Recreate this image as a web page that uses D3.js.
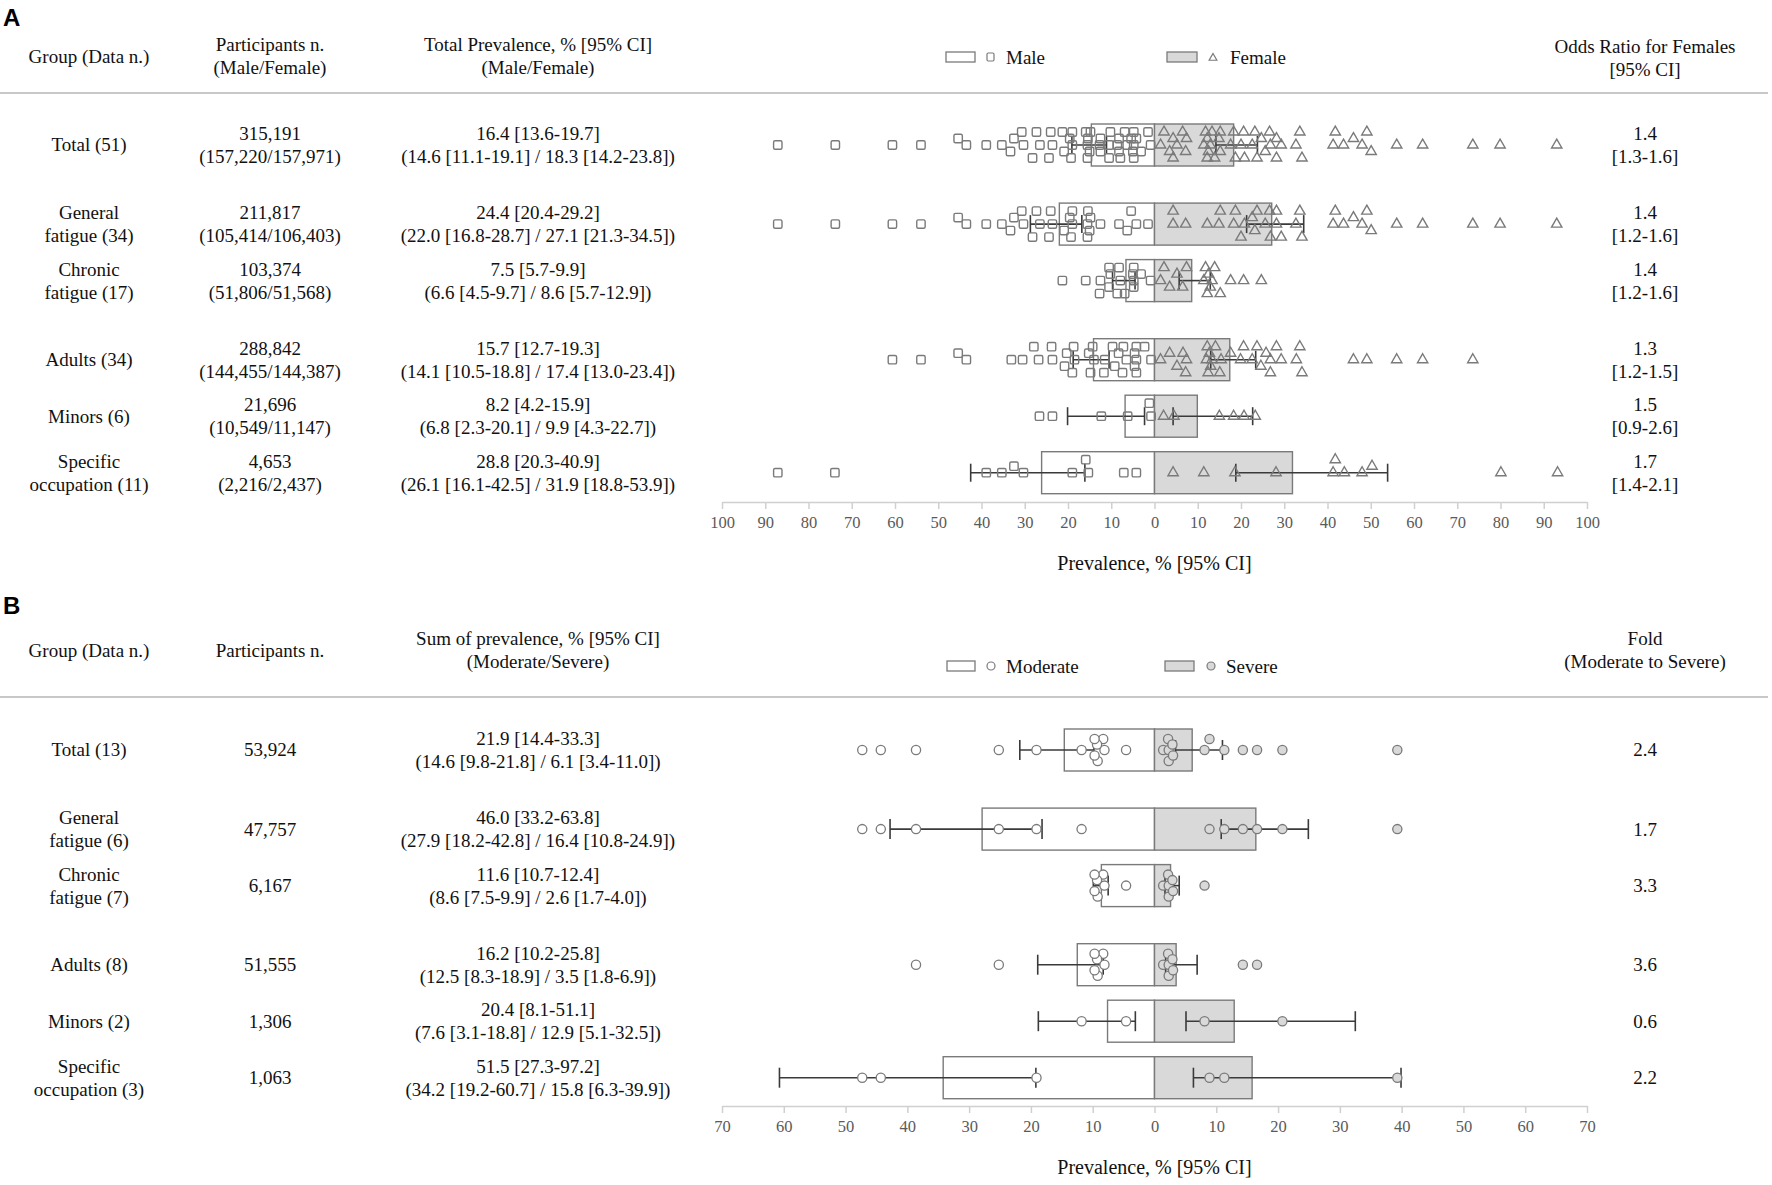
<!DOCTYPE html>
<html><head><meta charset="utf-8">
<script src="https://cdn.jsdelivr.net/npm/d3@7"></script>
<style>body{margin:0;background:#fff}svg{display:block}</style>
</head><body>
<svg id="c" width="1772" height="1185"></svg>
<script>
// ---------------- PANEL A DATA ----------------
const groupLabelsA = [["Total (51)"],["General","fatigue (34)"],["Chronic","fatigue (17)"],["Adults (34)"],["Minors (6)"],["Specific","occupation (11)"]];
const participantsA = [["315,191","(157,220/157,971)"],["211,817","(105,414/106,403)"],["103,374","(51,806/51,568)"],["288,842","(144,455/144,387)"],["21,696","(10,549/11,147)"],["4,653","(2,216/2,437)"]];
const prevalenceA = [["16.4 [13.6-19.7]","(14.6 [11.1-19.1] / 18.3 [14.2-23.8])"],["24.4 [20.4-29.2]","(22.0 [16.8-28.7] / 27.1 [21.3-34.5])"],["7.5 [5.7-9.9]","(6.6 [4.5-9.7] / 8.6 [5.7-12.9])"],["15.7 [12.7-19.3]","(14.1 [10.5-18.8] / 17.4 [13.0-23.4])"],["8.2 [4.2-15.9]","(6.8 [2.3-20.1] / 9.9 [4.3-22.7])"],["28.8 [20.3-40.9]","(26.1 [16.1-42.5] / 31.9 [18.8-53.9])"]];
const oddsA = [["1.4","[1.3-1.6]"],["1.4","[1.2-1.6]"],["1.4","[1.2-1.6]"],["1.3","[1.2-1.5]"],["1.5","[0.9-2.6]"],["1.7","[1.4-2.1]"]];
const maleEst = [14.6,22.0,6.6,14.1,6.8,26.1];
const maleLo  = [11.1,16.8,4.5,10.5,2.3,16.1];
const maleHi  = [19.1,28.7,9.7,18.8,20.1,42.5];
const femaleEst = [18.3,27.1,8.6,17.4,9.9,31.9];
const femaleLo  = [14.2,21.3,5.7,13.0,4.3,18.8];
const femaleHi  = [23.8,34.5,12.9,23.4,22.7,53.9];

const generalMale = [87.1,73.8,60.6,54.0,43.5,45.4,38.9,35.3,33.3,32.5,30.7,30.3,28.2,26.5,27.3,24.0,23.6,24.4,20.9,19.0,19.6,19.3,19.0,14.8,15.5,15.4,15.5,15.0,12.5,8.2,5.4,4.2,6.3,1.5];
const chronicMale = [21.3,15.9,12.5,12.7,10.2,10.5,10.5,8.2,8.6,7.9,6.9,4.8,4.8,4.8,5.0,3.1,0.9];
const generalFemale = [7.2,4.3,4.3,12.2,14.9,15.2,18.7,18.3,20.0,20.8,22.6,23.2,23.7,25.6,26.8,26.6,28.2,28.2,29.3,32.7,33.6,34.1,41.3,41.8,43.7,46.0,48.0,49.1,50.1,56.0,62.0,73.6,79.9,93.0];
const chronicFemale = [1.4,3.5,2.2,7.4,5.2,6.5,11.4,12.2,13.3,11.8,12.9,13.9,15.2,17.6,20.6,24.7,12.5];
const adultsMale = [60.6,54.0,43.5,45.4,33.1,30.5,27.9,26.8,23.8,23.6,20.8,20.3,18.7,19.0,18.5,14.3,15.2,14.8,14.0,11.5,11.7,9.7,9.2,7.2,8.3,7.4,6.5,4.2,4.6,4.2,4.2,2.3,0.8,4.6];
const adultsFemale = [1.4,3.5,5.2,6.6,7.4,7.2,12.2,13.3,12.0,12.4,12.7,13.0,14.1,15.4,15.1,17.6,20.6,19.9,22.6,23.7,24.6,25.8,26.8,26.8,28.2,29.3,32.8,34.1,33.6,46.0,49.1,56.0,62.0,73.6];
const minorsMale = [23.6,26.6,12.3,6.2,1.2,0.8];
const minorsFemale = [4.5,2.1,15.0,20.7,18.3,23.3];
const specificMale = [87.1,73.9,38.9,35.3,32.5,30.3,19.0,15.3,15.9,7.1,4.2];
const specificFemale = [4.3,11.4,18.6,28.1,41.8,41.3,48.0,50.3,43.9,80.1,93.2];
const pointsMaleA = [generalMale.concat(chronicMale), generalMale, chronicMale, adultsMale, minorsMale, specificMale];
const pointsFemaleA = [generalFemale.concat(chronicFemale), generalFemale, chronicFemale, adultsFemale, minorsFemale, specificFemale];
const ticksA = d3.range(-100, 101, 10);

// ---------------- PANEL B DATA ----------------
const groupLabelsB = [["Total (13)"],["General","fatigue (6)"],["Chronic","fatigue (7)"],["Adults (8)"],["Minors (2)"],["Specific","occupation (3)"]];
const participantsB = [["53,924"],["47,757"],["6,167"],["51,555"],["1,306"],["1,063"]];
const prevalenceB = [["21.9 [14.4-33.3]","(14.6 [9.8-21.8] / 6.1 [3.4-11.0])"],["46.0 [33.2-63.8]","(27.9 [18.2-42.8] / 16.4 [10.8-24.9])"],["11.6 [10.7-12.4]","(8.6 [7.5-9.9] / 2.6 [1.7-4.0])"],["16.2 [10.2-25.8]","(12.5 [8.3-18.9] / 3.5 [1.8-6.9])"],["20.4 [8.1-51.1]","(7.6 [3.1-18.8] / 12.9 [5.1-32.5])"],["51.5 [27.3-97.2]","(34.2 [19.2-60.7] / 15.8 [6.3-39.9])"]];
const foldB = [["2.4"],["1.7"],["3.3"],["3.6"],["0.6"],["2.2"]];
const moderateEst = [14.6,27.9,8.6,12.5,7.6,34.2];
const moderateLo  = [9.8,18.2,7.5,8.3,3.1,19.2];
const moderateHi  = [21.8,42.8,9.9,18.9,18.8,60.7];
const severeEst = [6.1,16.4,2.6,3.5,12.9,15.8];
const severeLo  = [3.4,10.8,1.7,1.8,5.1,6.3];
const severeHi  = [11.0,24.9,4.0,6.9,32.5,39.9];
// per-study values
const studyModerate = [47.3,44.3,38.6,25.2,19.1,11.8,4.6,9.2,8.1,9.7,9.7,8.3,9.3];
const studySevere   = [8.9,11.3,14.3,16.6,39.3,20.7,8.1,2.3,3.0,1.4,2.2,2.9,2.3];
const studyFatigue  = ["General","General","General","General","General","General","Chronic","Chronic","Chronic","Chronic","Chronic","Chronic","Chronic"];
const studyGroup    = ["Specific","Specific","Adults","Adults","Specific","Minors","Minors","Adults","Adults","Adults","Adults","Adults","Adults"];
const rowFiltersB = [i=>true, i=>studyFatigue[i]==="General", i=>studyFatigue[i]==="Chronic", i=>studyGroup[i]==="Adults", i=>studyGroup[i]==="Minors", i=>studyGroup[i]==="Specific"];
const ticksB = d3.range(-70, 71, 10);

// ---------------- LAYOUT ----------------
const svg = d3.select("#c");
const SERIF = "'Liberation Serif','Times New Roman',serif";
const rowSlots = [0,1.4,2.4,3.8,4.8,5.8];
const colGroup = 89, colPart = 270, colPrev = 538, colRight = 1645;
const LH = 23;
const GRAY = "#7a7a7a", FILL = "#d9d9d9", ERR = "#3a3a3a";

function lines(g, x, yc, arr, size, anchor) {
  const n = arr.length;
  arr.forEach((t, i) => {
    g.append("text").attr("x", x).attr("y", yc + (i - (n - 1) / 2) * LH + size * 0.34)
      .attr("text-anchor", anchor || "middle").attr("font-family", SERIF)
      .attr("font-size", size).attr("fill", "#111").text(t);
  });
}

function swarm(vals, scale, sign, yc, minD, step, maxK) {
  const pts = vals.map(v => ({ v, x: scale(sign * v) })).sort((a, b) => a.v - b.v);
  const placed = [];
  pts.forEach(p => {
    let best = 0, bestScore = -1;
    for (let k = 0; k <= 2 * maxK; k++) {
      const off = k === 0 ? 0 : (k % 2 ? -1 : 1) * Math.ceil(k / 2) * step;
      let md = Infinity;
      placed.forEach(q => { const d = Math.hypot(q.x - p.x, q.y - (yc + off)); if (d < md) md = d; });
      if (md >= minD) { best = off; bestScore = Infinity; break; }
      if (md > bestScore) { bestScore = md; best = off; }
    }
    p.y = yc + best;
    placed.push(p);
  });
  return placed;
}

function errBar(g, x, y, lo, hi, sign, cap) {
  const x1 = x(sign * lo), x2 = x(sign * hi);
  g.append("line").attr("x1", x1).attr("x2", x2).attr("y1", y).attr("y2", y).attr("stroke", ERR).attr("stroke-width", 1.6);
  [x1, x2].forEach(xx => g.append("line").attr("x1", xx).attr("x2", xx).attr("y1", y - cap).attr("y2", y + cap).attr("stroke", ERR).attr("stroke-width", 1.6));
}

function drawAxis(x, ticks, yAxis, titleY) {
  const ax = svg.append("g").attr("transform", `translate(0,${yAxis})`)
    .call(d3.axisBottom(x).tickValues(ticks).tickFormat(d => Math.abs(d)).tickSize(7).tickSizeOuter(0).tickPadding(7));
  ax.attr("font-family", SERIF).attr("font-size", 16.5);
  ax.select(".domain").attr("stroke", "#d0d0d0").attr("stroke-width", 1.5);
  ax.selectAll(".tick line").attr("stroke", "#d0d0d0").attr("stroke-width", 1.5);
  ax.selectAll(".tick text").attr("fill", "#5a5a5a");
  svg.append("text").attr("x", x(0)).attr("y", titleY).attr("text-anchor", "middle")
    .attr("font-family", SERIF).attr("font-size", 20).attr("fill", "#111").text("Prevalence, % [95% CI]");
}

function drawRule(y) {
  svg.append("line").attr("x1", 0).attr("x2", 1768).attr("y1", y).attr("y2", y).attr("stroke", "#c8c8c8").attr("stroke-width", 2);
}

// ---------------- PANEL A ----------------
(function () {
  const x = d3.scaleLinear().domain([-100, 100]).range([722, 1587]);
  const y = d3.scaleLinear().domain([0, 1]).range([145, 201.5]);
  const g = svg.append("g");
  svg.append("text").attr("x", 3).attr("y", 26).attr("font-family", "'Liberation Sans',Arial,sans-serif").attr("font-weight", "bold").attr("font-size", 24).text("A");
  lines(g, colGroup, 57, ["Group (Data n.)"], 19);
  lines(g, colPart, 56, ["Participants n.", "(Male/Female)"], 19);
  lines(g, colPrev, 56, ["Total Prevalence, % [95% CI]", "(Male/Female)"], 19);
  lines(g, colRight, 58, ["Odds Ratio for Females", "[95% CI]"], 19);
  // legend
  g.append("rect").attr("x", 946).attr("y", 52).attr("width", 29).attr("height", 10).attr("fill", "#fff").attr("stroke", GRAY).attr("stroke-width", 1.3);
  g.append("rect").attr("x", 987).attr("y", 53).attr("width", 7).attr("height", 8).attr("rx", 1.2).attr("fill", "none").attr("stroke", GRAY).attr("stroke-width", 1.2);
  g.append("text").attr("x", 1006).attr("y", 64).attr("font-family", SERIF).attr("font-size", 19).attr("fill", "#111").text("Male");
  g.append("rect").attr("x", 1167).attr("y", 52).attr("width", 30).attr("height", 10).attr("fill", FILL).attr("stroke", GRAY).attr("stroke-width", 1.3);
  g.append("path").attr("transform", "translate(1213,58)").attr("d", d3.symbol(d3.symbolTriangle, 26)()).attr("fill", "none").attr("stroke", GRAY).attr("stroke-width", 1.2);
  g.append("text").attr("x", 1230).attr("y", 64).attr("font-family", SERIF).attr("font-size", 19).attr("fill", "#111").text("Female");
  drawRule(93);

  rowSlots.forEach((s, i) => {
    const yc = y(s);
    lines(g, colGroup, yc, groupLabelsA[i], 19);
    lines(g, colPart, yc, participantsA[i], 19);
    lines(g, colPrev, yc, prevalenceA[i], 19);
    lines(g, colRight, yc, oddsA[i], 19);
    g.append("rect").attr("x", x(-maleEst[i])).attr("y", yc - 21).attr("width", x(0) - x(-maleEst[i])).attr("height", 42)
      .attr("fill", "#fff").attr("stroke", GRAY).attr("stroke-width", 1.4);
    g.append("rect").attr("x", x(0)).attr("y", yc - 21).attr("width", x(femaleEst[i]) - x(0)).attr("height", 42)
      .attr("fill", FILL).attr("stroke", GRAY).attr("stroke-width", 1.4);
    errBar(g, x, yc, maleLo[i], maleHi[i], -1, 9);
    errBar(g, x, yc, femaleLo[i], femaleHi[i], 1, 9);
    swarm(pointsMaleA[i], x, -1, yc, 10, 6.5, 2).forEach(p => {
      g.append("rect").attr("x", p.x - 4.2).attr("y", p.y - 4.2).attr("width", 8.4).attr("height", 8.4).attr("rx", 1.5)
        .attr("fill", "none").attr("stroke", GRAY).attr("stroke-width", 1.4);
    });
    swarm(pointsFemaleA[i], x, 1, yc, 10, 6.5, 2).forEach(p => {
      g.append("path").attr("transform", `translate(${p.x},${p.y})`).attr("d", d3.symbol(d3.symbolTriangle, 46)())
        .attr("fill", "none").attr("stroke", GRAY).attr("stroke-width", 1.4);
    });
  });
  drawAxis(x, ticksA, 502, 570);
})();

// ---------------- PANEL B ----------------
(function () {
  const x = d3.scaleLinear().domain([-70, 70]).range([722, 1587]);
  const y = d3.scaleLinear().domain([0, 1]).range([750, 806.5]);
  const g = svg.append("g");
  svg.append("text").attr("x", 3).attr("y", 614).attr("font-family", "'Liberation Sans',Arial,sans-serif").attr("font-weight", "bold").attr("font-size", 24).text("B");
  lines(g, colGroup, 651, ["Group (Data n.)"], 19);
  lines(g, colPart, 651, ["Participants n."], 19);
  lines(g, colPrev, 650, ["Sum of prevalence, % [95% CI]", "(Moderate/Severe)"], 19);
  lines(g, colRight, 650, ["Fold", "(Moderate to Severe)"], 19);
  g.append("rect").attr("x", 947).attr("y", 661).attr("width", 28).attr("height", 10).attr("fill", "#fff").attr("stroke", GRAY).attr("stroke-width", 1.3);
  g.append("circle").attr("cx", 991).attr("cy", 666).attr("r", 4).attr("fill", "#fff").attr("stroke", GRAY).attr("stroke-width", 1.2);
  g.append("text").attr("x", 1006).attr("y", 673).attr("font-family", SERIF).attr("font-size", 19).attr("fill", "#111").text("Moderate");
  g.append("rect").attr("x", 1165).attr("y", 661).attr("width", 29).attr("height", 10).attr("fill", FILL).attr("stroke", GRAY).attr("stroke-width", 1.3);
  g.append("circle").attr("cx", 1211).attr("cy", 666).attr("r", 4).attr("fill", FILL).attr("stroke", GRAY).attr("stroke-width", 1.2);
  g.append("text").attr("x", 1226).attr("y", 673).attr("font-family", SERIF).attr("font-size", 19).attr("fill", "#111").text("Severe");
  drawRule(697);

  rowSlots.forEach((s, i) => {
    const yc = y(s);
    lines(g, colGroup, yc, groupLabelsB[i], 19);
    lines(g, colPart, yc, participantsB[i], 19);
    lines(g, colPrev, yc, prevalenceB[i], 19);
    lines(g, colRight, yc, foldB[i], 19);
    g.append("rect").attr("x", x(-moderateEst[i])).attr("y", yc - 21).attr("width", x(0) - x(-moderateEst[i])).attr("height", 42)
      .attr("fill", "#fff").attr("stroke", GRAY).attr("stroke-width", 1.4);
    g.append("rect").attr("x", x(0)).attr("y", yc - 21).attr("width", x(severeEst[i]) - x(0)).attr("height", 42)
      .attr("fill", FILL).attr("stroke", GRAY).attr("stroke-width", 1.4);
    errBar(g, x, yc, moderateLo[i], moderateHi[i], -1, 10);
    errBar(g, x, yc, severeLo[i], severeHi[i], 1, 10);
    const idx = d3.range(studyModerate.length).filter(rowFiltersB[i]);
    swarm(idx.map(k => studyModerate[k]), x, -1, yc, 9.2, 5.5, 2).forEach(p => {
      g.append("circle").attr("cx", p.x).attr("cy", p.y).attr("r", 4.6).attr("fill", "#fff").attr("stroke", GRAY).attr("stroke-width", 1.3);
    });
    swarm(idx.map(k => studySevere[k]), x, 1, yc, 9.2, 5.5, 2).forEach(p => {
      g.append("circle").attr("cx", p.x).attr("cy", p.y).attr("r", 4.6).attr("fill", FILL).attr("stroke", GRAY).attr("stroke-width", 1.3);
    });
  });
  drawAxis(x, ticksB, 1106, 1174);
})();
</script>
</body></html>
